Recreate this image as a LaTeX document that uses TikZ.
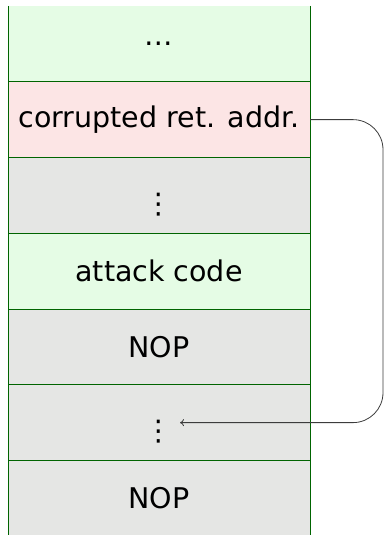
\documentclass[tikz,border=0pt]{standalone}
\usepackage{fontspec}
\setmainfont{DejaVu Sans}
\usetikzlibrary{arrows.meta}
\definecolor{rowgreen}{RGB}{229,252,229}
\definecolor{rowpink}{RGB}{252,229,229}
\definecolor{rowgray}{RGB}{229,230,228}
\definecolor{edgegreen}{RGB}{0,100,0}
\definecolor{linkgray}{RGB}{60,60,60}
\tikzset{
  cell/.style={rectangle, minimum width=302pt, minimum height=75.75pt, inner sep=0pt, outer sep=0pt,
    font=\fontsize{28.5}{34}\selectfont},
  dotsnode/.style={rectangle, minimum width=42pt, inner sep=0pt, outer sep=0pt,
    text height=36pt, text depth=0pt, font=\fontsize{28.5}{34}\selectfont},
  sepline/.style={draw=edgegreen, line width=1pt},
  jump/.style={draw=linkgray, line width=0.8pt, rounded corners=30pt, -{To[length=4pt,width=7pt]}}
}
\begin{document}
\begin{tikzpicture}[x=1pt,y=-1pt]
\useasboundingbox (0,0) rectangle (384,535);
\clip (0,0) rectangle (384,535);
% rows
\node[cell, fill=rowgreen] (r1) at (159,43.875) {…};
\node[cell, fill=rowpink]  (r2) at (159,119.625) {corrupted ret. addr.};
\node[cell, fill=rowgray]  (r3) at (159,195.375) {};
\node[cell, fill=rowgreen] (r4) at (159,271.125) {attack code};
\node[cell, fill=rowgray]  (r5) at (159,346.875) {NOP};
\node[cell, fill=rowgray]  (r6) at (159,422.625) {};
\node[cell, fill=rowgray]  (r7) at (159,498.375) {NOP};
\node[dotsnode] (v3) at (r3.center) {⋮};
\node[dotsnode] (v6) at (r6.center) {⋮};
% separators
\foreach \rowname in {r1,r2,r3,r4,r5,r6}{
  \draw[sepline] (\rowname.south west) -- (\rowname.south east);
}
\draw[sepline] (r1.north west) -- (r7.south west);
\draw[sepline] (r1.north east) -- (r7.south east);
% connector
\coordinate (rt) at (383,0);
\draw[jump] (r2.east) -- (r2.east -| rt) -- (v6.east -| rt) -- (v6.east);
\end{tikzpicture}
\end{document}
